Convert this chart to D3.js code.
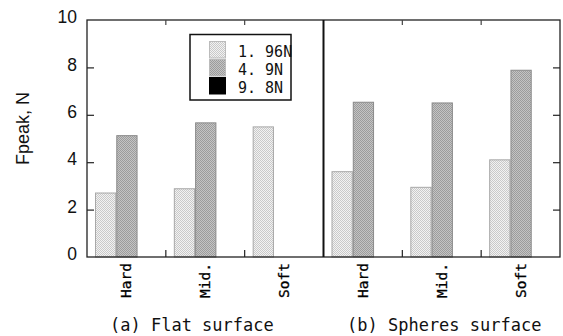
<!DOCTYPE html>
<html>
<head>
<meta charset="utf-8">
<script src="https://cdn.jsdelivr.net/npm/d3@7"></script>
<style>
  html, body { margin: 0; padding: 0; background: #fff; }
  svg { display: block; }
</style>
</head>
<body>
<svg id="chart" width="563" height="336"></svg>
<script>
// Peak force per stiffness class, for two surface types
const panels = ["(a) Flat surface", "(b) Spheres surface"];
const categories = ["Hard", "Mid.", "Soft"];
const seriesNames = ["1.96N", "4.9N", "9.8N"];
const legendLabels = ["1. 96N", "4. 9N", "9. 8N"];
const flat196 = [2.70, 2.88, 5.49];
const flat49 = [5.12, 5.66, null];
const flat98 = [null, null, null];
const sphere196 = [3.60, 2.94, 4.10];
const sphere49 = [6.53, 6.50, 7.88];
const sphere98 = [null, null, null];
const yTicks = [0, 2, 4, 6, 8, 10];

const panelValues = [
  [flat196, flat49, flat98],
  [sphere196, sphere49, sphere98]
];

// Flatten into one row per group (panel × category)
const groups = [];
panels.forEach((p, pi) => {
  categories.forEach((c, ci) => {
    groups.push({
      key: pi + "-" + ci,
      panel: pi,
      cat: c,
      values: seriesNames.map((s, si) => ({ series: s, si, value: panelValues[pi][si][ci] }))
    });
  });
});

const svg = d3.select("#chart");
const L = 87, R = 560, T = 20, B = 257;

const x = d3.scaleBand().domain(groups.map(g => g.key)).range([L, R]).padding(0);
const xi = d3.scaleBand().domain(seriesNames).range([8, x.bandwidth() - 7]).padding(0);
const y = d3.scaleLinear().domain([0, 10]).range([B, T]);

// Dithered fills
const defs = svg.append("defs");
function dither(id, a, b) {
  const p = defs.append("pattern").attr("id", id).attr("patternUnits", "userSpaceOnUse")
    .attr("width", 2).attr("height", 2);
  p.append("rect").attr("width", 2).attr("height", 2).attr("fill", a);
  p.append("rect").attr("width", 1).attr("height", 1).attr("fill", b);
  p.append("rect").attr("x", 1).attr("y", 1).attr("width", 1).attr("height", 1).attr("fill", b);
}
dither("p196", "#f2f2f2", "#c9c9c9");
dither("p49", "#c4c4c4", "#9c9c9c");
const fills = { "1.96N": "url(#p196)", "4.9N": "url(#p49)", "9.8N": "#000" };
const strokes = { "1.96N": "#a8a8a8", "4.9N": "#8a8a8a", "9.8N": "#000" };

// Bars
const g = svg.append("g");
groups.forEach(grp => {
  g.selectAll(null)
    .data(grp.values.filter(d => d.value != null))
    .enter().append("rect")
    .attr("x", d => x(grp.key) + xi(d.series) + 0.5)
    .attr("y", d => y(d.value))
    .attr("width", xi.bandwidth() - 1)
    .attr("height", d => y(0) - y(d.value))
    .attr("fill", d => fills[d.series])
    .attr("stroke", d => strokes[d.series])
    .attr("stroke-width", 1);
});

// Frame
svg.append("rect").attr("x", L).attr("y", T).attr("width", R - L).attr("height", B - T)
  .attr("fill", "none").attr("stroke", "#222").attr("stroke-width", 1.3);

// Panel divider
const divX = x(groups[3].key);
svg.append("line").attr("x1", divX).attr("x2", divX).attr("y1", T).attr("y2", B)
  .attr("stroke", "#111").attr("stroke-width", 2);

// Group separator ticks (top and bottom, inside)
const sepKeys = groups.filter((d, i) => i % 3 !== 0).map(d => d.key);
sepKeys.forEach(k => {
  const xx = x(k);
  svg.append("line").attr("x1", xx).attr("x2", xx).attr("y1", B).attr("y2", B - 7)
    .attr("stroke", "#222").attr("stroke-width", 1.2);
  svg.append("line").attr("x1", xx).attr("x2", xx).attr("y1", T).attr("y2", T + 5)
    .attr("stroke", "#444").attr("stroke-width", 1.2);
});

// Left axis
const yAxisL = d3.axisLeft(y).tickValues(yTicks).tickSize(-7).tickPadding(10).tickFormat(d3.format("d"));
const axL = svg.append("g").attr("transform", `translate(${L},0)`).call(yAxisL);
axL.select(".domain").remove();
axL.selectAll(".tick line").attr("stroke", "#222").attr("stroke-width", 1.2)
  .filter(d => d === 0 || d === 10).remove();
axL.selectAll(".tick text")
  .attr("font-family", "'Liberation Sans', Arial, sans-serif")
  .attr("font-size", 17.5).attr("fill", "#111")
  .attr("x", -10).attr("dy", "0.32em").attr("y", -3);

// Right axis
const yAxisR = d3.axisRight(y).tickValues(yTicks.filter(d => d > 0 && d < 10)).tickSize(-7).tickFormat("");
const axR = svg.append("g").attr("transform", `translate(${R},0)`).call(yAxisR);
axR.select(".domain").remove();
axR.selectAll(".tick line").attr("stroke", "#222").attr("stroke-width", 1.2);

// Y title
svg.append("text")
  .attr("transform", "translate(29,128.5) rotate(-90)")
  .attr("text-anchor", "middle")
  .attr("font-family", "'Liberation Sans', Arial, sans-serif")
  .attr("font-size", 18).attr("fill", "#111")
  .text("Fpeak, N");

// Category labels
const mono = "'DejaVu Sans Mono', monospace";
groups.forEach(grp => {
  const cx = x(grp.key) + x.bandwidth() / 2;
  svg.append("text")
    .attr("transform", `translate(${cx + 5},263) rotate(-90)`)
    .attr("text-anchor", "end")
    .attr("font-family", mono).attr("font-size", 14.5).attr("fill", "#000")
    .attr("stroke", "#000").attr("stroke-width", 0.3)
    .text(grp.cat);
});

// Panel titles
const titleX = [110, 347];
panels.forEach((p, i) => {
  svg.append("text")
    .attr("x", titleX[i]).attr("y", 331)
    .attr("font-family", mono).attr("font-size", 17).attr("fill", "#111")
    .text(p);
});

// Legend
const lg = svg.append("g");
lg.append("rect").attr("x", 190).attr("y", 34.5).attr("width", 101).attr("height", 65.5)
  .attr("fill", "#fff").attr("stroke", "#111").attr("stroke-width", 1.5);
seriesNames.forEach((s, i) => {
  const yy = 41.5 + i * 18;
  lg.append("rect").attr("x", 209.5).attr("y", yy).attr("width", 16).attr("height", 16.5)
    .attr("fill", fills[s]).attr("stroke", i === 2 ? "#000" : "#bbb").attr("stroke-width", 1);
  lg.append("text")
    .attr("x", 238).attr("y", yy + 15.5)
    .attr("font-family", mono).attr("font-size", 15).attr("fill", "#111")
    .text(legendLabels[i]);
});
</script>
</body>
</html>
